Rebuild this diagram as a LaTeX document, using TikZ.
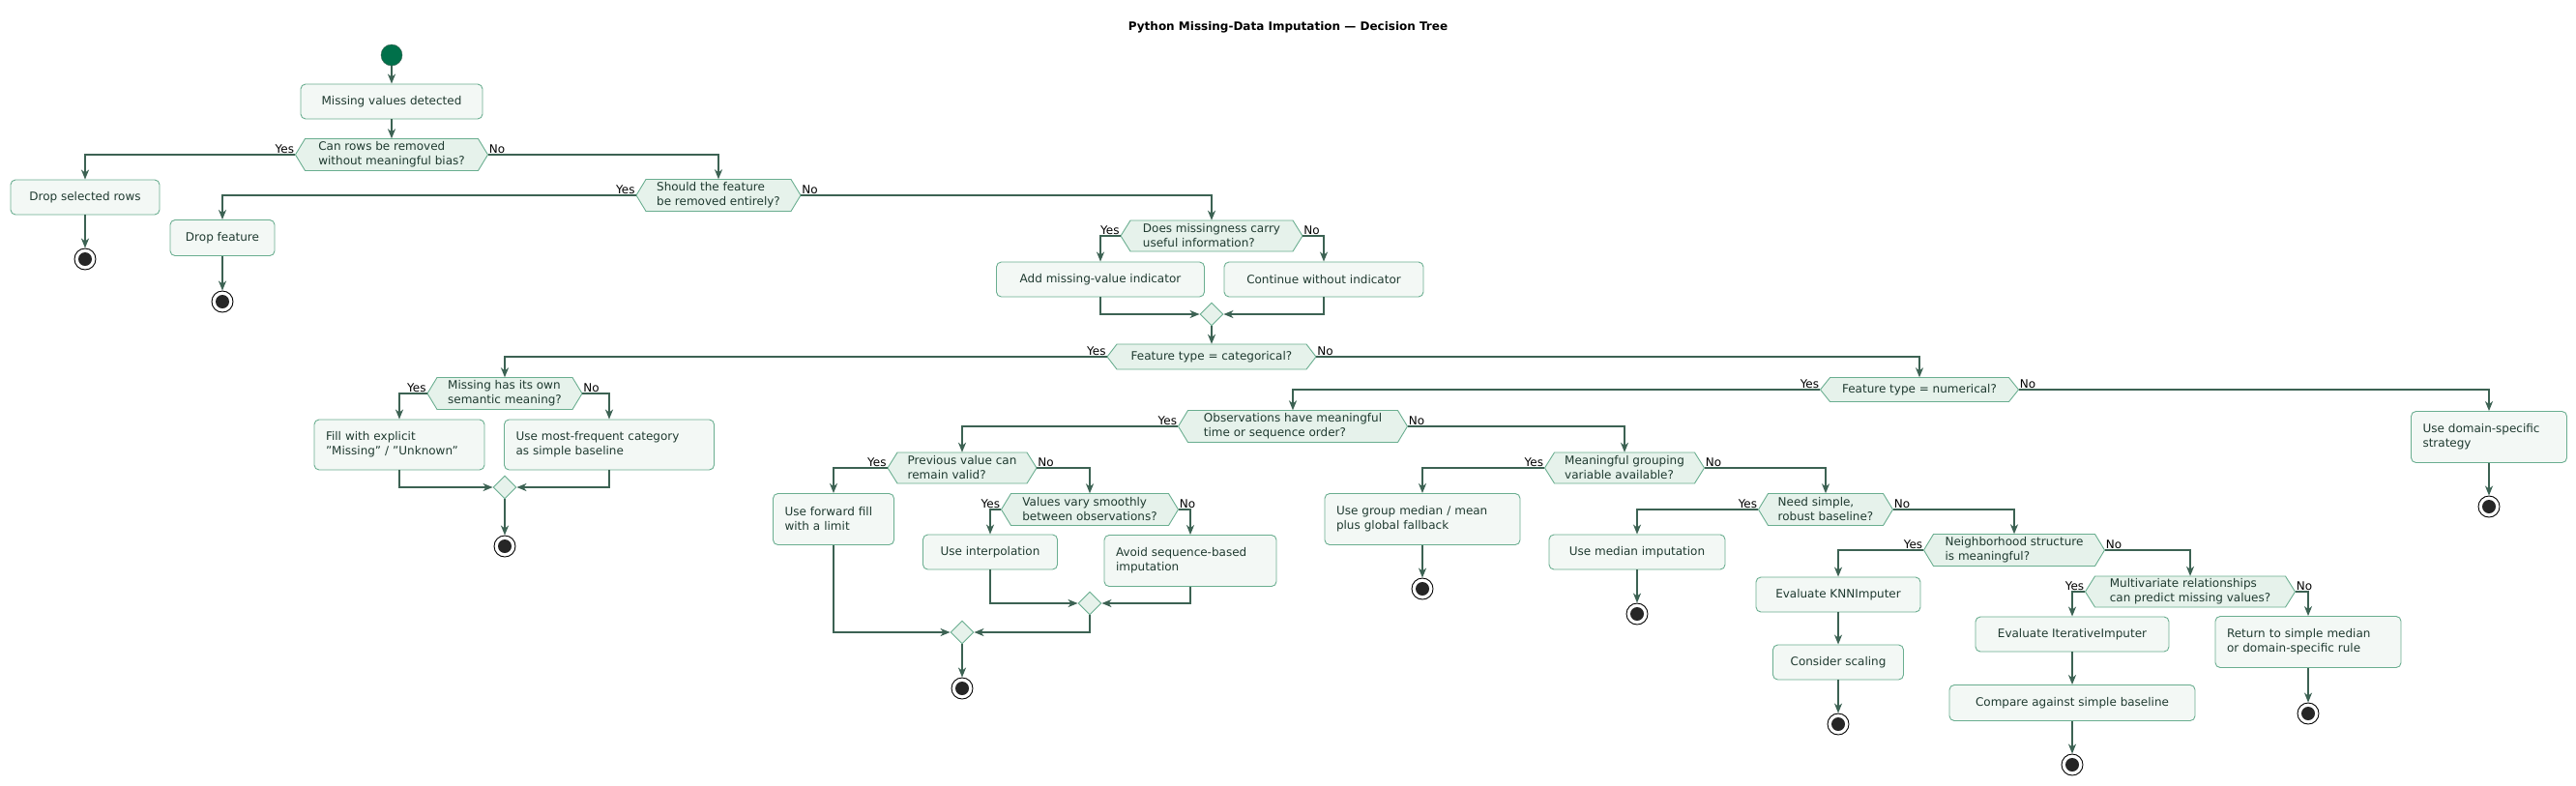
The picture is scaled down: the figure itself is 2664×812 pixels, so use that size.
\documentclass[tikz,border=0pt]{standalone}
\usepackage{fontspec}
\setmainfont{DejaVu Sans}
\usetikzlibrary{shapes.geometric,arrows.meta}
\definecolor{txt}{HTML}{1F3A30}
\definecolor{bfill}{HTML}{F3F8F5}
\definecolor{bdr}{HTML}{6AAE90}
\definecolor{dfill}{HTML}{E6F2EB}
\definecolor{arr}{HTML}{3C6253}
\definecolor{startc}{HTML}{00704A}
\tikzset{
  box/.style={draw=bdr,fill=bfill,rounded corners=5pt,text=txt,font=\fontsize{12}{15}\selectfont,align=center,inner sep=0pt,line width=0.9pt},
  lbox/.style={box,align=left},
  dtext/.style={text=txt,font=\fontsize{12}{15}\selectfont,align=left,inner sep=0pt},
  decfill/.style={draw=bdr,fill=dfill,line width=0.9pt},
  con/.style={draw=arr,line width=1.6pt,-{Stealth[length=10pt,width=8pt,inset=3pt]}},
  lab/.style={font=\fontsize{12}{14}\selectfont,inner sep=1pt},
  merge/.style={diamond,draw=bdr,fill=dfill,minimum width=24pt,minimum height=24pt,inner sep=0pt,line width=0.9pt},
  stopn/.style={circle,draw=black,fill=white,minimum size=22pt,inner sep=0pt,line width=0.9pt,
    path picture={\fill[black!85] (path picture bounding box.center) circle (7pt);}},
}
\newcommand\decn[6]{%
  \draw[decfill] ({#2-#4/2},#3) -- ({#2-#4/2+10},{#3-#5/2}) -- ({#2+#4/2-10},{#3-#5/2}) -- ({#2+#4/2},#3) -- ({#2+#4/2-10},{#3+#5/2}) -- ({#2-#4/2+10},{#3+#5/2}) -- cycle;
  \node[dtext,minimum width=#4,minimum height=#5] (#1) at (#2,#3) {#6};
  \node[lab,anchor=south east] at (#1.west) {Yes};
  \node[lab,anchor=south west] at (#1.east) {No};}
\begin{document}
\begin{tikzpicture}[x=1pt,y=-1pt]
\useasboundingbox[fill=white] (0,0) rectangle (2664,812);
\node[font=\bfseries\fontsize{12}{14}\selectfont] (title) at (1332,28) {Python Missing-Data Imputation — Decision Tree};
\node[circle,fill=startc,draw=arr,minimum size=22pt,inner sep=0pt] (start) at (405,57) {};
\node[box,minimum width=188,minimum height=36] (b1) at (405,105) {Missing values detected};
\decn{d1}{405}{160}{199}{33}{Can rows be removed\\without meaningful bias?}
\node[box,minimum width=154,minimum height=36] (b2) at (88,204) {Drop selected rows};
\node[stopn] (e1) at (88,268) {};
\decn{d2}{743}{202}{170}{33}{Should the feature\\be removed entirely?}
\node[box,minimum width=108,minimum height=37] (b3) at (230,246) {Drop feature};
\node[stopn] (e2) at (230,312) {};
\decn{d3}{1253}{244}{188}{32}{Does missingness carry\\useful information?}
\node[box,minimum width=215,minimum height=36] (b4) at (1138,289) {Add missing-value indicator};
\node[box,minimum width=206,minimum height=36] (b5) at (1369,289) {Continue without indicator};
\node[merge] (m1) at (1253,325) {};
\decn{d4}{1253}{369}{216}{26}{Feature type = categorical?}
\decn{d5}{522}{407}{160}{33}{Missing has its own\\semantic meaning?}
\node[lbox,minimum width=176,minimum height=52,text width=152] (b6) at (413,460) {Fill with explicit\\"Missing" / "Unknown"};
\node[lbox,minimum width=217,minimum height=52,text width=193] (b7) at (630,460) {Use most-frequent category\\as simple baseline};
\node[merge] (m2) at (522,504) {};
\node[stopn] (e3) at (522,565) {};
\decn{d6}{1985}{403}{205}{25}{Feature type = numerical?}
\node[lbox,minimum width=161,minimum height=53,text width=137] (b8) at (2574,452) {Use domain-specific\\strategy};
\node[stopn] (e4) at (2574,524) {};
\decn{d7}{1337}{441}{237}{33}{Observations have meaningful\\time or sequence order?}
\decn{d8}{995}{484}{154}{32}{Previous value can\\remain valid?}
\node[lbox,minimum width=125,minimum height=53,text width=101] (b9) at (862,537) {Use forward fill\\with a limit};
\decn{d9}{1127}{527}{183}{33}{Values vary smoothly\\between observations?}
\node[box,minimum width=139,minimum height=36] (b10) at (1024,571) {Use interpolation};
\node[lbox,minimum width=178,minimum height=53,text width=154] (b11) at (1231,580) {Avoid sequence-based\\imputation};
\node[merge] (m3) at (1127,624) {};
\node[merge] (m4) at (995,654) {};
\node[stopn] (e5) at (995,712) {};
\decn{d10}{1680}{484}{165}{32}{Meaningful grouping\\variable available?}
\node[lbox,minimum width=202,minimum height=53,text width=178] (b12) at (1471,537) {Use group median / mean\\plus global fallback};
\node[stopn] (e6) at (1471,609) {};
\decn{d11}{1888}{527}{139}{33}{Need simple,\\robust baseline?}
\node[box,minimum width=182,minimum height=36] (b13) at (1693,571) {Use median imputation};
\node[stopn] (e7) at (1693,635) {};
\decn{d12}{2083}{569}{187}{33}{Neighborhood structure\\is meaningful?}
\node[box,minimum width=170,minimum height=36] (b14) at (1901,615) {Evaluate KNNImputer};
\node[box,minimum width=135,minimum height=36] (b15) at (1901,685) {Consider scaling};
\node[stopn] (e8) at (1901,749) {};
\decn{d13}{2265}{612}{217}{32}{Multivariate relationships\\can predict missing values?}
\node[box,minimum width=200,minimum height=36] (b16) at (2143,656) {Evaluate IterativeImputer};
\node[box,minimum width=254,minimum height=37] (b17) at (2143,727) {Compare against simple baseline};
\node[stopn] (e9) at (2143,791) {};
\node[lbox,minimum width=192,minimum height=53,text width=168] (b18) at (2387,664) {Return to simple median\\or domain-specific rule};
\node[stopn] (e10) at (2387,738) {};
% connectors
\draw[con] (start) -- (b1);
\draw[con] (b1) -- (d1);
\draw[con] (d1.west) -| (b2.north);
\draw[con] (b2) -- (e1);
\draw[con] (d1.east) -| (d2.north);
\draw[con] (d2.west) -| (b3.north);
\draw[con] (b3) -- (e2);
\draw[con] (d2.east) -| (d3.north);
\draw[con] (d3.west) -| (b4.north);
\draw[con] (d3.east) -| (b5.north);
\draw[con] (b4.south) |- (m1.west);
\draw[con] (b5.south) |- (m1.east);
\draw[con] (m1) -- (d4);
\draw[con] (d4.west) -| (d5.north);
\draw[con] (d5.west) -| (b6.north);
\draw[con] (d5.east) -| (b7.north);
\draw[con] (b6.south) |- (m2.west);
\draw[con] (b7.south) |- (m2.east);
\draw[con] (m2) -- (e3);
\draw[con] (d4.east) -| (d6.north);
\draw[con] (d6.east) -| (b8.north);
\draw[con] (b8) -- (e4);
\draw[con] (d6.west) -| (d7.north);
\draw[con] (d7.west) -| (d8.north);
\draw[con] (d8.west) -| (b9.north);
\draw[con] (d8.east) -| (d9.north);
\draw[con] (d9.west) -| (b10.north);
\draw[con] (d9.east) -| (b11.north);
\draw[con] (b10.south) |- (m3.west);
\draw[con] (b11.south) |- (m3.east);
\draw[con] (b9.south) |- (m4.west);
\draw[con] (m3.south) |- (m4.east);
\draw[con] (m4) -- (e5);
\draw[con] (d7.east) -| (d10.north);
\draw[con] (d10.west) -| (b12.north);
\draw[con] (b12) -- (e6);
\draw[con] (d10.east) -| (d11.north);
\draw[con] (d11.west) -| (b13.north);
\draw[con] (b13) -- (e7);
\draw[con] (d11.east) -| (d12.north);
\draw[con] (d12.west) -| (b14.north);
\draw[con] (b14) -- (b15);
\draw[con] (b15) -- (e8);
\draw[con] (d12.east) -| (d13.north);
\draw[con] (d13.west) -| (b16.north);
\draw[con] (b16) -- (b17);
\draw[con] (b17) -- (e9);
\draw[con] (d13.east) -| (b18.north);
\draw[con] (b18) -- (e10);
\end{tikzpicture}
\end{document}
